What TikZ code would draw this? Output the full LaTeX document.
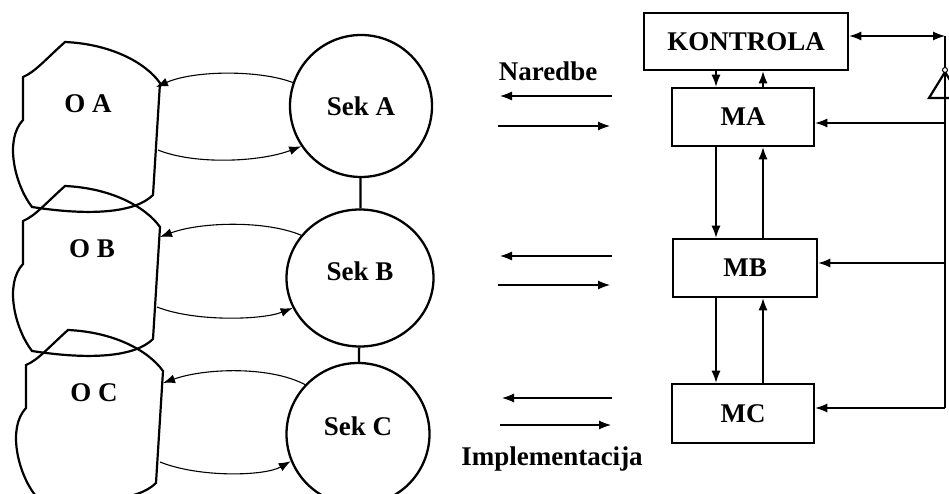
\documentclass[tikz,border=0pt]{standalone}
\usepackage{fontspec}
\setmainfont{Liberation Serif}
\usetikzlibrary{arrows.meta,shapes.geometric}
\begin{document}
\begin{tikzpicture}[x=1pt,y=-1pt,
  lbl/.style={font=\fontsize{27}{30}\selectfont\bfseries, inner sep=0pt},
  sek/.style={draw, line width=2.3pt, ellipse, minimum width=142pt, minimum height=142pt, inner sep=0pt, lbl},
  box/.style={draw, line width=2.6pt, minimum width=142pt, minimum height=58pt, inner sep=0pt, lbl},
  blob/.style={line width=2.2pt},
  arr/.style={line width=1.1pt, -{Latex[length=12pt,width=9pt]}},
  barr/.style={line width=1.1pt, {Latex[length=12pt,width=9pt]}-{Latex[length=12pt,width=9pt]}}
]
\useasboundingbox (0,0) rectangle (949,494);
\clip (0,0) rectangle (949,494);

% blobs
\foreach \dx/\dy in {0/0,0/144,3/288}
  \draw[blob, shift={(\dx,\dy)}] (65,42) .. controls (110,44) and (145,62) .. (160,83)
     -- (153,195) .. controls (135,213) and (90,216) .. (32,207)
     .. controls (15,185) and (4,140) .. (23,120) -- (23,77)
     .. controls (35,72) and (45,60) .. (65,42) -- cycle;

\node[lbl] (oa) at (88,104) {O A};
\node[lbl] (ob) at (92,249) {O B};
\node[lbl] (oc) at (94,393) {O C};

% sections
\node[sek] (sa) at (361,106) {Sek A};
\node[sek, minimum width=147pt, minimum height=137pt, text depth=14pt] (sb) at (360,278) {Sek B};
\node[sek, minimum width=143pt, text depth=16pt] (sc) at (358,434) {Sek C};
\draw[line width=2.3pt] (sa) -- (sb);
\draw[line width=2.3pt] (sb) -- (sc);

% blob ends
\coordinate (oaI) at (156,87);
\coordinate (oaO) at (158,150);
\coordinate (obI) at (160,237);
\coordinate (obO) at (157,307);
\coordinate (ocI) at (163,383);
\coordinate (ocO) at (160,462);

\draw[arr] (sa.161) .. controls (260,70) and (195,70) .. (oaI);
\draw[arr] (oaO) .. controls (195,165) and (260,162) .. (sa.214);
\draw[arr] (sb.144) .. controls (265,220) and (200,222) .. (obI);
\draw[arr] (obO) .. controls (195,322) and (262,320) .. (sb.204);
\draw[arr] (sc.137) .. controls (270,366) and (205,368) .. (ocI);
\draw[arr] (ocO) .. controls (200,478) and (265,476) .. (sc.202);

% middle arrows
\node[lbl] (nar) at (548,71) {Naredbe};
\node[lbl] (imp) at (552,459) {Implementacija};
\coordinate (a1r) at (612,96);  \coordinate (a1l) at (500,96);
\coordinate (a2l) at (498,126); \coordinate (a2r) at (610,126);
\coordinate (b1r) at (612,256); \coordinate (b1l) at (500,256);
\coordinate (b2l) at (498,285); \coordinate (b2r) at (610,285);
\coordinate (c1r) at (612,398); \coordinate (c1l) at (502,398);
\coordinate (c2l) at (500,425); \coordinate (c2r) at (611,425);
\draw[arr] (a1r) -- (a1l);
\draw[arr] (a2l) -- (a2r);
\draw[arr] (b1r) -- (b1l);
\draw[arr] (b2l) -- (b2r);
\draw[arr] (c1r) -- (c1l);
\draw[arr] (c2l) -- (c2r);

% right side
\node[box, minimum width=204pt, minimum height=57pt] (kon) at (746,41.5) {KONTROLA};
\node[box] (ma) at (743,117) {MA};
\node[box, minimum width=144pt] (mb) at (745,268) {MB};
\node[box, minimum height=59pt] (mc) at (743,413.5) {MC};

\coordinate (xl) at (716,0);
\coordinate (xr) at (763,0);
\draw[arr] (kon.south -| xl) -- (ma.north -| xl);
\draw[arr] (ma.north -| xr) -- (kon.south -| xr);
\draw[arr] (ma.south -| xl) -- (mb.north -| xl);
\draw[arr] (mb.north -| xr) -- (ma.south -| xr);
\draw[arr] (mb.south -| xl) -- (mc.north -| xl);
\draw[arr] (mc.north -| xr) -- (mb.south -| xr);

\coordinate (bt) at (945,36);
\coordinate (bb) at (945,408);
\coordinate (ra) at (945,123);
\coordinate (rb) at (945,263);
\draw[barr] (kon.east |- bt) -- (bt);
\draw[line width=1.8pt] (bt) -- (bb);
\draw[line width=2.2pt] (945,72) -- (929,98) -- (961,98) -- cycle;
\draw[line width=1pt, fill=white] (945,70) circle (2.5pt);
\draw[arr] (ra) -- (ra -| ma.east);
\draw[arr] (rb) -- (rb -| mb.east);
\draw[arr] (bb) -- (bb -| mc.east);
\end{tikzpicture}
\end{document}
